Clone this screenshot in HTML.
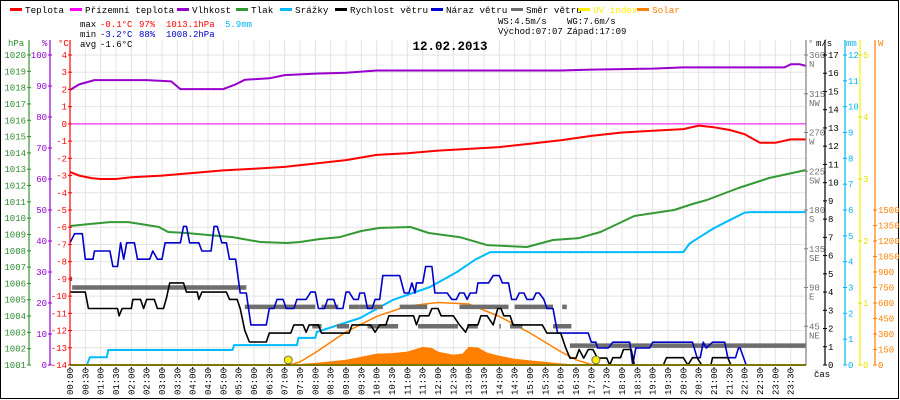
<!DOCTYPE html>
<html><head><meta charset="utf-8">
<style>
html,body{margin:0;padding:0;background:#fff;}
svg{display:block;font-family:"Liberation Mono",monospace;}
</style></head>
<body>
<svg id="chart" width="900" height="400" viewBox="0 0 900 400" xmlns="http://www.w3.org/2000/svg">
<rect x="0.5" y="0.5" width="898" height="398" fill="#fff" stroke="#000"/>
<g id="grid"></g>
<g id="series"></g>
<g id="axes"></g>
<g id="legend" font-size="9.3"></g>
<g font-size="9">
 <text x="80" y="27">max</text>
 <text x="100" y="27" fill="#f00">-0.1°C</text>
 <text x="139" y="27" fill="#f00">97%</text>
 <text x="166" y="27" fill="#f00">1013.1hPa</text>
 <text x="225" y="27" fill="#00b4f0">5.9mm</text>
 <text x="80" y="37">min</text>
 <text x="100" y="37" fill="#0000cc">-3.2°C</text>
 <text x="139" y="37" fill="#0000cc">88%</text>
 <text x="166" y="37" fill="#0000cc">1008.2hPa</text>
 <text x="80" y="47">avg</text>
 <text x="100" y="47">-1.6°C</text>
 <text x="498" y="24">WS:4.5m/s</text>
 <text x="567" y="24">WG:7.6m/s</text>
 <text x="498" y="34">Východ:07:07</text>
 <text x="567" y="34">Západ:17:09</text>
</g>
<text x="450" y="50" font-size="12.5" font-weight="bold" text-anchor="middle">12.02.2013</text>
</svg>
<script>
const NS="http://www.w3.org/2000/svg";
// ---- data ----
const tempT=[0,0.3,0.7,1.0,1.5,2,3,4,5,6,7,8,9,10,11,12,13,14,15,16,17,18,19,20,20.5,21,21.5,22,22.5,23,23.5,24];
const tempV=[-2.8,-3.0,-3.15,-3.2,-3.2,-3.1,-3.0,-2.85,-2.7,-2.6,-2.5,-2.3,-2.1,-1.8,-1.7,-1.55,-1.45,-1.35,-1.15,-0.95,-0.7,-0.5,-0.4,-0.3,-0.1,-0.2,-0.35,-0.6,-1.1,-1.1,-0.9,-0.9];
const apparentT=[0,24];
const apparentV=[0,0];
const humT=[0,0.3,0.8,2.5,3.3,3.6,5.0,5.4,5.7,6.5,7.0,8.0,9.0,10.0,13,16,17,19,20,22.5,23.3,23.5,23.8,24];
const humV=[88.7,90.5,91.9,91.9,91.5,89,89,90.5,92,92.5,93.5,94,94.3,95,95,95,95.3,95.6,96,96,96,97,97,96.5];
const pressT=[0,0.65,1.3,1.9,2.3,2.9,3.2,3.8,4.5,5.3,6.2,7.07,7.5,8.15,8.8,9.5,10.1,11.1,11.7,12.7,13.6,14.9,15.75,16.6,17.3,18.4,19.7,20.3,20.77,21.8,22.8,24];
const pressV=[1009.52,1009.64,1009.76,1009.76,1009.64,1009.46,1009.15,1009.09,1008.97,1008.84,1008.54,1008.48,1008.54,1008.72,1008.84,1009.21,1009.4,1009.46,1009.09,1008.84,1008.35,1008.23,1008.66,1008.78,1009.15,1010.13,1010.5,1010.87,1011.11,1011.85,1012.46,1012.95];
const rainT=[0,0.55,0.65,1.2,1.25,5.3,5.35,7.4,7.45,8.0,8.05,9.46,10.53,11.74,12.62,13.2,13.7,20.0,20.2,20.6,21.0,21.5,22.0,22.2,24];
const rainV=[0,0,0.3,0.3,0.58,0.58,0.77,0.77,1.05,1.05,1.28,1.82,2.52,3.02,3.6,4.07,4.37,4.37,4.7,5.0,5.3,5.6,5.9,5.92,5.92];
const windT=[0,0.5,0.6,1.55,1.6,1.7,2.0,2.05,2.3,2.4,2.5,2.75,2.85,3.05,3.15,3.25,3.7,3.8,4.15,4.2,4.3,5.1,5.2,5.45,5.55,5.7,5.85,6.4,6.5,7.2,7.3,7.6,7.7,7.8,8.1,8.2,9.1,9.2,9.8,9.95,10.1,10.3,10.4,11.2,11.3,11.4,11.7,11.8,12.0,12.1,12.5,12.7,12.9,13.0,13.3,13.4,13.6,13.8,13.95,14.05,14.15,14.35,14.45,15.4,15.55,16.0,16.15,16.3,16.5,16.6,16.75,16.9,17.05,17.2,17.5,17.6,17.7,17.95,18.05,18.3,18.4,19.35,19.45,20.0,20.15,20.3,20.45,20.6,20.9,20.95,21.45,21.55,24];
const windV=[4.0,4.0,3.1,3.1,2.7,3.1,3.1,3.6,3.6,3.1,3.6,3.6,3.1,3.1,3.7,4.5,4.5,4.0,4.0,3.6,4.0,4.0,3.6,3.6,3.1,1.9,1.26,1.26,1.75,1.75,2.2,2.2,1.8,2.2,2.2,1.75,1.75,2.2,2.2,1.8,2.2,2.2,2.7,2.7,2.2,2.7,2.7,3.1,3.1,2.7,2.7,2.2,1.8,2.2,2.2,2.7,2.7,2.2,3.1,3.1,2.7,2.7,2.2,2.2,1.75,1.75,1.0,0.38,0.38,0.85,0.38,0.85,0.85,0.38,0.38,0,0.4,0.4,0.85,0.85,0,0,0.4,0.4,0,0.4,0.4,0,0,0.4,0.4,0,0];
const gustT=[0,0.15,0.4,0.5,0.75,0.8,1.3,1.4,1.55,1.65,1.75,1.85,2.1,2.2,2.6,2.7,2.85,3.0,3.1,3.6,3.7,3.8,3.9,4.2,4.3,4.6,4.7,4.8,4.95,5.1,5.2,5.4,5.55,5.75,5.9,6.4,6.5,6.65,6.75,6.95,7.05,7.3,7.4,7.7,7.85,8.0,8.1,8.3,8.4,8.6,8.7,8.9,9.0,9.1,9.25,9.4,9.45,9.6,9.7,9.85,9.95,10.1,10.2,10.75,10.9,11.05,11.15,11.25,11.3,11.5,11.6,11.8,11.9,12.3,12.45,12.6,12.7,12.85,12.95,13.05,13.25,13.3,13.65,13.8,14.0,14.1,14.3,14.4,14.55,14.65,14.8,14.9,15.1,15.2,15.3,15.45,15.55,15.75,15.9,16.9,17.0,17.15,17.2,17.55,17.7,18.25,18.35,18.45,18.9,19.0,20.3,20.45,20.55,20.65,20.75,20.95,21.35,21.45,21.7,21.8,21.85,22.05];
const gustV=[6.7,7.2,7.2,5.8,5.8,6.25,6.25,5.4,5.4,6.7,5.8,6.7,6.7,5.8,5.8,6.25,5.8,5.8,6.7,6.7,7.6,7.6,6.7,6.7,6.25,6.25,7.6,7.6,6.7,6.7,5.8,5.8,3.95,3.95,2.2,2.2,3.1,3.1,3.6,3.6,3.1,3.1,3.6,3.6,4.0,4.0,3.1,3.1,3.6,3.6,3.1,3.1,4.0,4.0,3.6,3.6,3.95,3.95,3.1,3.1,3.6,3.6,4.9,4.9,3.95,3.95,4.5,3.95,4.5,4.5,5.4,5.4,3.95,3.95,3.6,3.6,3.95,3.95,3.6,3.95,3.95,4.5,4.5,4.9,4.9,4.5,4.5,3.6,3.6,3.95,3.95,3.6,3.6,3.95,3.95,3.6,3.1,3.1,1.75,1.75,1.25,1.25,0.93,0.93,1.25,1.25,0,0.93,0.93,1.25,1.25,0.4,0.4,1.25,0.93,1.25,1.25,0.4,0.4,0.93,0.93,0];
const dirStart=[0,0.07,5.7,7.9,8.2,8.7,9.1,9.45,9.7,10.75,11.35,12.7,12.95,14.0,14.35,14.5,15.75,16.05,16.3];
const dirEnd=[0.07,5.75,8.0,8.2,8.75,9.1,9.45,10.2,10.7,11.65,12.65,14.3,13.3,14.05,14.75,15.75,16.35,16.2,24];
const dirDeg=[100,90,67.5,45,67.5,45,67.5,67.5,45,67.5,45,67.5,45,45,45,67.5,45,67.5,22.5];
const solarT=[7.3,7.5,8.0,8.5,9.0,9.5,10.0,10.5,11.0,11.5,11.8,12.0,12.5,12.8,13.0,13.3,13.6,14.0,14.5,15.0,15.5,16.0,16.5,17.0];
const solarV=[0,10,20,35,50,80,110,115,130,175,165,130,100,110,175,170,120,90,60,45,30,15,5,0];
const clearT=[7.15,7.5,8,9,10,11,12,13,14,15,16,16.5,17,17.15];
const clearV=[0,30,120,320,470,570,605,590,470,310,130,50,5,0];
const sunEvents=[7+7/60,17+9/60];
const uvT=[0,24];
const uvV=[0,0];
const hpaTicks=[1001,1002,1003,1004,1005,1006,1007,1008,1009,1010,1011,1012,1013,1014,1015,1016,1017,1018,1019,1020];
const humTicks=[0,10,20,30,40,50,60,70,80,90,100];
const tempTicks=[4,3,2,1,0,-1,-2,-3,-4,-5,-6,-7,-8,-9,-10,-11,-12,-13,-14];
const dirTicks=[45,90,135,180,225,270,315,360];
const dirLetters=["NE","E","SE","S","SW","W","NW","N"];
const msTicks=[0,1,2,3,4,5,6,7,8,9,10,11,12,13,14,15,16,17];
const mmTicks=[0,1,2,3,4,5,6,7,8,9,10,11,12];
const uvTicks=[0,1,2,3,4,5];
const wTicks=[0,150,300,450,600,750,900,1050,1200,1350,1500];

// ---- scales ----
const X0=70,X1=806,YB=365,YT=55,TOP=40;
const X=t=>X0+t*(X1-X0)/24;
const yT=c=>YT+(4-c)*(YB-YT)/18;
const yP=p=>YB-(p-1001)*(YB-YT)/19;
const yH=h=>YB-h*(YB-YT)/100;
const yV=v=>YB-v*(YB-YT)/17;
const yR=m=>YB-m*(YB-YT)/12;
const yD=d=>YB-d*(YB-YT)/360;
const yU=u=>YB-u*(YB-YT)/5;
const yW=w=>YB-w*(YB-YT)/3000;

function el(tag,attrs,parent,txt){const e=document.createElementNS(NS,tag);for(const k in attrs)e.setAttribute(k,attrs[k]);if(txt!==undefined)e.textContent=txt;parent.appendChild(e);return e;}
const grid=document.getElementById('grid'),series=document.getElementById('series'),axes=document.getElementById('axes'),legend=document.getElementById('legend');

for(let i=0;i<=48;i++){const x=X(i/2);const g=el('line',{x1:x,x2:x,y1:TOP,y2:YB,stroke:'#e4e4e4'},grid);

}
tempTicks.forEach(c=>{const y=yT(c);const g=el('line',{x1:X0,x2:X1,y1:y,y2:y,stroke:'#e4e4e4'},grid);

});

function poly(ts,vs,sc,color,w,name){const pts=ts.map((t,i)=>X(t).toFixed(1)+','+sc(vs[i]).toFixed(1)).join(' ');
const p=el('polyline',{points:pts,fill:'none',stroke:color,'stroke-width':w,'stroke-linejoin':'round'},series);

return p;}

{const pts=[X(solarT[0])+','+YB].concat(solarT.map((t,i)=>X(t).toFixed(1)+','+yW(solarV[i]).toFixed(1))).concat([X(solarT[solarT.length-1])+','+YB]).join(' ');
const a=el('polygon',{points:pts,fill:'#ff8000'},series);

}
poly(clearT,clearV,yW,'#ff8000',1.5,'solar-clear-sky-line');
poly(apparentT,apparentV,yT,'#ff00ff',1,'apparent-temp-line');
poly(humT,humV,yH,'#9900cc',2,'humidity-line');
poly(tempT,tempV,yT,'#ff0000',2,'temperature-line');
poly(pressT,pressV,yP,'#339933',2,'pressure-line');
poly(rainT,rainV,yR,'#00bbff',2,'rain-line');
dirDeg.forEach((d,i)=>{const y=yD(d);const s=el('line',{x1:X(dirStart[i]),x2:X(dirEnd[i]),y1:y,y2:y,stroke:'#6e6e6e','stroke-width':4.5},series);

});
poly(gustT,gustV,yV,'#0000cc',1.6,'wind-gust-line');
poly(windT,windV,yV,'#000000',1.6,'wind-speed-line');
poly(uvT,uvV,yU,'#ffee00',2,'uv-index-line');
sunEvents.forEach(t=>{const c=el('circle',{cx:X(t),cy:YB-5,r:4,fill:'#ffee00',stroke:'#555','stroke-width':0.8},series);

});

function vaxis(x,color,name){const l=el('line',{x1:x,x2:x,y1:TOP,y2:YB,stroke:color,'stroke-width':1.2},axes);

}
function ticks(arr,sc,x,color,left,name){arr.forEach(v=>{const y=sc(v);
el('line',{x1:x-2,x2:x+2,y1:y,y2:y,stroke:color},axes);
const t=el('text',{x:left?x-3:x+3,y:y+3,fill:color,'font-size':9,'text-anchor':left?'end':'start'},axes,String(v));

});}
vaxis(29,'#339933','hpa-axis');ticks(hpaTicks,yP,29,'#2e8b2e',true,'hpa-tick-label');
vaxis(50,'#9400d3','humidity-axis');ticks(humTicks,yH,50,'#9400d3',true,'humidity-tick-label');
vaxis(X0,'#ff0000','temp-axis');ticks(tempTicks,yT,X0,'#ff0000',true,'temp-tick-label');
vaxis(X1,'#808080','direction-axis');
dirTicks.forEach((d,i)=>{const y=yD(d);el('line',{x1:X1-2,x2:X1+2,y1:y,y2:y,stroke:'#808080'},axes);
const t=el('text',{x:X1+3,y:y+3,fill:'#707070','font-size':9},axes,String(d));


const t2=el('text',{x:X1+3,y:y+12,fill:'#707070','font-size':9},axes,dirLetters[i]);

});
vaxis(825,'#000','wind-speed-axis');ticks(msTicks,yV,825,'#000',false,'wind-tick-label');
vaxis(845,'#00b4f0','rain-axis');ticks(mmTicks,yR,845,'#00b4f0',false,'rain-tick-label');
vaxis(860,'#ffee00','uv-axis');ticks(uvTicks,yU,860,'#e8e000',false,'uv-tick-label');
vaxis(875,'#ff8000','solar-axis');ticks(wTicks,yW,875,'#ff8000',false,'solar-tick-label');
[['hPa',8,'#2e8b2e'],['%',42,'#9400d3'],['°C',58,'#f00'],['°',808,'#707070'],['m/s',816,'#000'],['mm',846,'#00b4f0'],['W',878,'#ff8000']].forEach(a=>{
const t=el('text',{x:a[1],y:46,fill:a[2],'font-size':9},axes,a[0]);

});
{const b=el('line',{x1:X0,x2:X1,y1:YB,y2:YB,stroke:'#000','stroke-width':1},axes);

}
for(let i=0;i<48;i++){const x=X(i/2);const h=Math.floor(i/2),m=i%2?'30':'00';const lab=(h<10?'0':'')+h+':'+m;
el('line',{x1:x,x2:x,y1:YB+2,y2:YB+4,stroke:'#000'},axes);
const t=el('text',{x:0,y:0,'font-size':9,'text-anchor':'end',transform:`translate(${x+3},368) rotate(-90)`},axes,lab);

}
{const t=el('text',{x:814,y:377,'font-size':9},axes,'čas');

}

const legNames=['Teplota','Přízemní teplota','Vlhkost','Tlak','Srážky','Rychlost větru','Náraz větru','Směr větru','UV index','Solar'];
const legColors=['#ff0000','#ff00ff','#9900cc','#339933','#00bbff','#000000','#0000cc','#6e6e6e','#ffee00','#ff8000'];
const legX=[10,70,177,236,280,335,431,511,578,637];
legNames.forEach((n,i)=>{const g=el('g',{},legend);


el('rect',{x:legX[i],y:8,width:12,height:3,fill:legColors[i]},g);
el('text',{x:legX[i]+15,y:13,fill:i===8?'#ffee00':(i===9?'#ff8000':'#000')},g,n);});
</script>
</body></html>
